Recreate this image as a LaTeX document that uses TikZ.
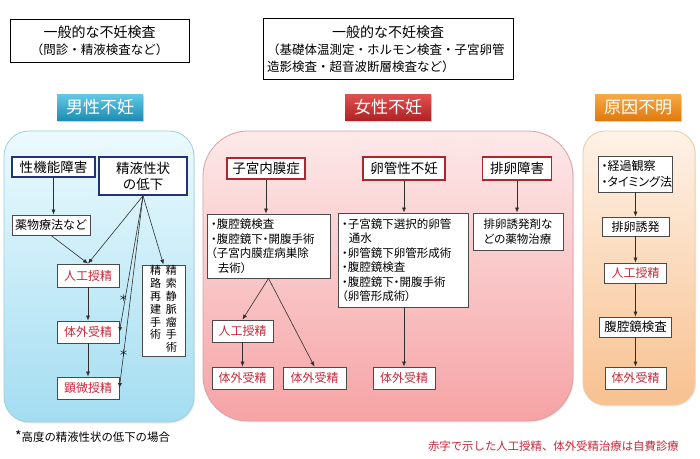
\documentclass[tikz,border=0pt]{standalone}
\usepackage{fontspec}
\setmainfont{Noto Sans CJK JP}
\newfontfamily\propfont{Noto Sans CJK JP}[RawFeature=+palt]
\usetikzlibrary{arrows.meta, shadows, positioning, calc}
\definecolor{fuNavy}{HTML}{22337A}
\definecolor{fuWine}{HTML}{B0242E}
\definecolor{fuRed}{HTML}{C62A3A}
\definecolor{fuGrey}{HTML}{4A4A4A}
\definecolor{fuLine}{HTML}{2E2E2E}
\definecolor{mTop}{HTML}{ECFAFE}
\definecolor{mBot}{HTML}{A3DDF1}
\definecolor{mEdge}{HTML}{9CCFDE}
\definecolor{fTop}{HTML}{FDE9E9}
\definecolor{fBot}{HTML}{F6A3A5}
\definecolor{fEdge}{HTML}{D4A2A6}
\definecolor{uTop}{HTML}{FEF2E7}
\definecolor{uBot}{HTML}{F8C190}
\definecolor{uEdge}{HTML}{EBCBA8}
\definecolor{bBlueT}{HTML}{62CAE6}
\definecolor{bBlueB}{HTML}{1F8CB4}
\definecolor{bRedT}{HTML}{E25050}
\definecolor{bRedB}{HTML}{AE2424}
\definecolor{bOrT}{HTML}{F8AA45}
\definecolor{bOrB}{HTML}{DF7A10}
\tikzset{
  sz/.style 2 args  = {minimum width=#1pt, minimum height=#2pt},
  topbox/.style     = {draw=black, line width=1pt, fill=white, inner sep=0pt,
                       align=center, font=\fontsize{12.5}{17}\selectfont},
  badge/.style 2 args = {top color=#1, bottom color=#2, text=white, inner sep=0pt,
                       minimum width=86pt, minimum height=26pt,
                       font=\fontsize{17}{20}\selectfont,
                       drop shadow={opacity=0.35, shadow xshift=1pt, shadow yshift=-1.5pt}},
  panel/.style      = {inner sep=0pt, line width=0.8pt,
                       drop shadow={opacity=0.15, shadow xshift=1pt, shadow yshift=-1.5pt}},
  cause/.style      = {draw=#1, line width=1.6pt, fill=white, inner sep=0pt,
                       align=center, font=\fontsize{13.5}{16}\selectfont},
  stepbox/.style    = {draw=fuGrey, line width=0.8pt, fill=white, inner sep=0pt,
                       font=\fontsize{12}{14}\selectfont},
  ivfbox/.style     = {stepbox, text=fuRed},
  listbox/.style    = {stepbox, align=left, inner xsep=4pt,
                       font=\propfont\fontsize{11.5}{14.5}\selectfont},
  note/.style       = {inner sep=0pt, font=\fontsize{11.4}{14}\selectfont},
  flow/.style       = {-{Latex[length=5pt, width=4pt]}, line width=0.6pt, fuLine},
  star/.style       = {inner sep=0pt, text=black, font=\fontsize{9}{9}\selectfont},
}
\begin{document}
\begin{tikzpicture}[x=1pt, y=-1pt]
  \useasboundingbox[fill=white] (0,0) rectangle (700,458);

  % general examinations
  \node[topbox, sz={179}{43}] (genM) at (99.5,40.5)
    {{\fontsize{14}{17}\selectfont 一般的な不妊検査}\\（問診・精液検査など）};
  \node[topbox, sz={250}{61}, text width=242pt, align=left] (genF) at (388,49)
    {\makebox[242pt]{\fontsize{14}{17}\selectfont 一般的な不妊検査}\\
     （基礎体温測定・ホルモン検査・子宮卵管\\造影検査・超音波断層検査など）};

  % panels
  \node[panel, rounded corners=25pt, top color=mTop, bottom color=mBot, draw=mEdge,
        sz={190}{291}] (panelM) at (99,276.5) {};
  \node[panel, rounded corners=45pt, top color=fTop, bottom color=fBot, draw=fEdge,
        sz={370}{290}] (panelF) at (388,276) {};
  \node[panel, rounded corners=22pt, top color=uTop, bottom color=uBot, draw=uEdge,
        sz={112}{274}] (panelU) at (639,268) {};

  \node[badge={bBlueT}{bBlueB}] (badgeM) at (100,107) {男性不妊};
  \node[badge={bRedT}{bRedB}]   (badgeF) at (388,107) {女性不妊};
  \node[badge={bOrT}{bOrB}]     (badgeU) at (638,107) {原因不明};

  % male
  \node[cause=fuNavy, sz={83}{20}] (kino)   at (53.5,167) {性機能障害};
  \node[cause=fuNavy, sz={88}{38}] (seieki) at (143,176)  {精液性状\\の低下};
  \node[stepbox, sz={78}{20}] (yakubutsu) at (51,225) {薬物療法など};
  \node[ivfbox, sz={62}{23}]  (mjinko)    at (88,275.5) {人工授精};
  \node[ivfbox, sz={62}{22}]  (mtaigai)   at (88,332)   {体外受精};
  \node[ivfbox, sz={62}{22}]  (kenbi)     at (88,388)   {顕微授精};
  \node[stepbox, sz={43}{91}, font=\fontsize{11}{12}\selectfont] (seisaku) at (163.5,310.5)
    {\begin{tabular}{@{}c@{\hspace{5pt}}c@{}}
       精&精\\ 路&索\\ 再&静\\ 建&脈\\ 手&瘤\\ 術&手\\ &術
     \end{tabular}};

  \draw[flow] (kino.south) -- (kino.south |- yakubutsu.north);
  \draw[flow] (yakubutsu.south) -- (mjinko.north);
  \draw[flow] (seieki.south) -- (mjinko.north);
  \draw[flow] (seieki.south) -- (seisaku.north);
  \draw[flow] (seieki.south) -- (mtaigai.east)
    node[star, pos=0.75, xshift=-2pt] (starA) {＊};
  \draw[flow] (seieki.south) -- (kenbi.east)
    node[star, pos=0.82] (starB) {＊};
  \draw[flow] (mjinko) -- (mtaigai);
  \draw[flow] (mtaigai) -- (kenbi);

  \node[note, anchor=west] (noteM) at (15,436) {{\fontsize{14}{14}\selectfont*}高度の精液性状の低下の場合};

  % female
  \node[cause=fuWine, sz={78}{21}] (naimaku) at (266,168.5) {子宮内膜症};
  \node[cause=fuWine, sz={82}{23}] (rankan)  at (404,168.5) {卵管性不妊};
  \node[cause=fuWine, sz={69}{23}] (hairan)  at (517,168.5) {排卵障害};
  \node[listbox, sz={123}{64}, text width=115pt] (fukuku) at (268.5,246)
    {・腹腔鏡検査\\・腹腔鏡下・開腹手術\\（子宮内膜症病巣除\\\hspace*{0.6em}去術）};
  \node[listbox, sz={130}{94}, text width=122pt] (rankanbox) at (403,260)
    {・子宮鏡下選択的卵管\\\hspace*{0.6em}通水\\・卵管鏡下卵管形成術\\・腹腔鏡検査\\
     ・腹腔鏡下・開腹手術\\（卵管形成術）};
  \node[listbox, sz={90}{37}] (hairanbox) at (518,231.5)
    {排卵誘発剤な\\どの薬物治療};
  \node[ivfbox, sz={61}{22}] (fjinko)   at (242.5,331) {人工授精};
  \node[ivfbox, sz={61}{22}] (ftaigaiA) at (242.5,378) {体外受精};
  \node[ivfbox, sz={63}{22}] (ftaigaiB) at (314.5,378) {体外受精};
  \node[ivfbox, sz={62}{22}] (ftaigaiC) at (404,378)   {体外受精};

  \draw[flow] (naimaku.south) -- (naimaku.south |- fukuku.north);
  \draw[flow] (fukuku.south) -- (fjinko.north);
  \draw[flow] (fukuku.south) -- (ftaigaiB.north);
  \draw[flow] (fjinko) -- (ftaigaiA);
  \draw[flow] (rankan.south) -- (rankan.south |- rankanbox.north);
  \draw[flow] (ftaigaiC.north |- rankanbox.south) -- (ftaigaiC.north);
  \draw[flow] (hairan.south) -- (hairan.south |- hairanbox.north);

  % unexplained
  \node[listbox, sz={74}{36}, text width=68pt, inner xsep=3pt,
        font=\propfont\fontsize{12}{16}\selectfont] (keika) at (635.5,174)
    {・経過観察\\・タイミング法};
  \node[stepbox, sz={67}{19}] (yuhatsu) at (635.5,226.5) {排卵誘発};
  \node[ivfbox, sz={62}{20}]  (ujinko)  at (635.5,273)   {人工授精};
  \node[stepbox, sz={72}{20}, font=\fontsize{12.5}{14}\selectfont] (ufukuku) at (635.5,327) {腹腔鏡検査};
  \node[ivfbox, sz={61}{22}]  (utaigai) at (635.5,378)   {体外受精};

  \draw[flow] (keika) -- (yuhatsu);
  \draw[flow] (yuhatsu) -- (ujinko);
  \draw[flow] (ujinko) -- (ufukuku);
  \draw[flow] (ufukuku) -- (utaigai);

  \node[note, text=fuRed, anchor=east] (noteFee) at (679,446)
    {赤字で示した人工授精、体外受精治療は自費診療};
\end{tikzpicture}
\end{document}
